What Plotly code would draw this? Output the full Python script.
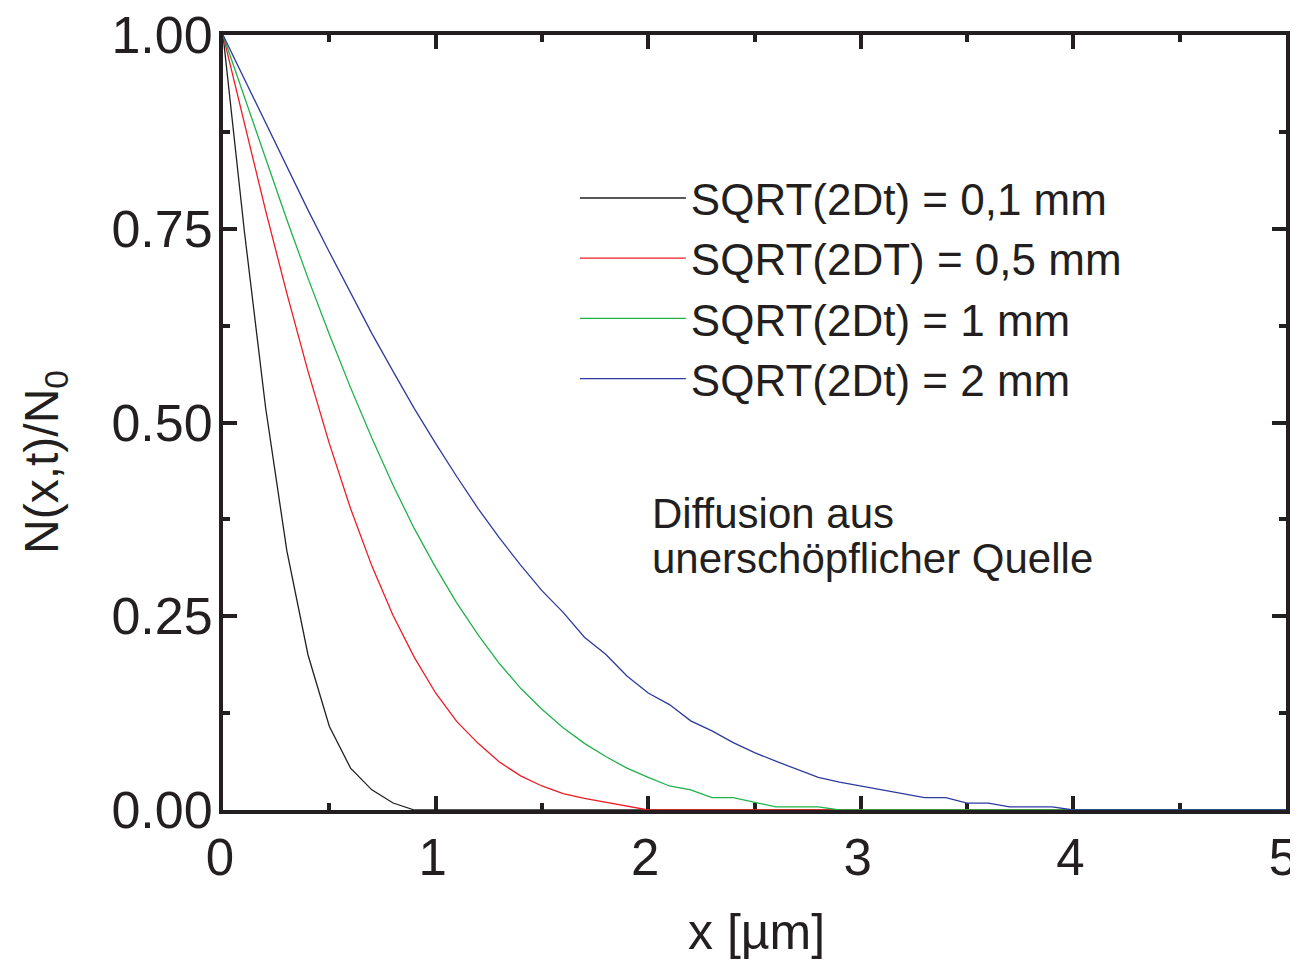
import plotly.graph_objects as go

# x positions (µm)
x_um = [0.0, 0.1, 0.2, 0.3, 0.4, 0.5, 0.6, 0.7, 0.8, 0.9,
        1.0, 1.1, 1.2, 1.3, 1.4, 1.5, 1.6, 1.7, 1.8, 1.9,
        2.0, 2.1, 2.2, 2.3, 2.4, 2.5, 2.6, 2.7, 2.8, 2.9,
        3.0, 3.1, 3.2, 3.3, 3.4, 3.5, 3.6, 3.7, 3.8, 3.9,
        4.0, 5.0]

y_01 = [1.0, 0.748, 0.52, 0.335, 0.2, 0.108, 0.054, 0.026, 0.009, 0.0,
        0, 0, 0, 0, 0, 0, 0, 0, 0, 0,
        0, 0, 0, 0, 0, 0, 0, 0, 0, 0,
        0, 0, 0, 0, 0, 0, 0, 0, 0, 0,
        0, 0]

y_05 = [1.0, 0.886, 0.774, 0.667, 0.566, 0.473, 0.389, 0.315, 0.251, 0.197,
        0.151, 0.114, 0.086, 0.062, 0.044, 0.031, 0.021, 0.015, 0.010, 0.005,
        0, 0, 0, 0, 0, 0, 0, 0, 0, 0,
        0, 0, 0, 0, 0, 0, 0, 0, 0, 0,
        0, 0]

y_1 = [1.0, 0.92, 0.84, 0.762, 0.686, 0.614, 0.545, 0.48, 0.419, 0.363,
       0.313, 0.267, 0.226, 0.189, 0.157, 0.13, 0.106, 0.086, 0.069, 0.054,
       0.042, 0.031, 0.026, 0.016, 0.016, 0.01, 0.004, 0.004, 0.004, 0.0,
       0, 0, 0, 0, 0, 0, 0, 0, 0, 0,
       0, 0]

y_2 = [1.0, 0.943, 0.886, 0.83, 0.774, 0.72, 0.667, 0.615, 0.566, 0.518,
       0.473, 0.43, 0.389, 0.351, 0.316, 0.283, 0.255, 0.223, 0.201, 0.173,
       0.151, 0.136, 0.115, 0.102, 0.087, 0.074, 0.063, 0.053, 0.042, 0.036,
       0.031, 0.026, 0.021, 0.016, 0.016, 0.009, 0.009, 0.004, 0.004, 0.004,
       0.0, 0.0]

series_names = ["SQRT(2Dt) = 0,1 mm", "SQRT(2DT) = 0,5 mm",
                "SQRT(2Dt) = 1 mm", "SQRT(2Dt) = 2 mm"]
series_values = [y_01, y_05, y_1, y_2]
series_colors = ["#231f20", "#ed1c24", "#1fb24a", "#2e3a9e"]

x_ticks = [0, 1, 2, 3, 4, 5]
y_ticks = [0.0, 0.25, 0.5, 0.75, 1.0]
y_ticklabels = ["0.00", "0.25", "0.50", "0.75", "1.00"]

FONT = "Liberation Sans, Arial, sans-serif"
INK = "#231f20"

fig = go.Figure()
for name, ys, col in zip(series_names, series_values, series_colors):
    fig.add_trace(go.Scatter(x=x_um, y=ys, mode="lines", name=name,
                             line=dict(color=col, width=1.3)))

axis_common = dict(
    showline=True, linewidth=4, linecolor=INK, mirror="ticks",
    ticks="inside", ticklen=14, tickwidth=4, tickcolor=INK,
    showgrid=False, zeroline=False, layer="below traces", automargin=False,
    ticklabeloverflow="allow",
)

fig.update_xaxes(range=[0, 5], tickvals=x_ticks,
                 minor=dict(dtick=0.5, ticklen=7, tickwidth=4, tickcolor=INK, ticks="inside"),
                 ticklabelstandoff=0, ticklabelshift=-3,
                 tickfont=dict(family=FONT, size=51, color=INK), **axis_common)
fig.update_yaxes(range=[0, 1], tickvals=y_ticks, ticktext=y_ticklabels,
                 minor=dict(dtick=0.125, ticklen=7, tickwidth=4, tickcolor=INK, ticks="inside"),
                 ticklabelstandoff=-4,
                 tickfont=dict(family=FONT, size=52, color=INK), **axis_common)

fig.add_annotation(text="N(x,t)/N<sub>0</sub>", xref="paper", yref="paper",
                   x=-0.1675, y=0.449, xanchor="center", yanchor="middle",
                   textangle=-90, showarrow=False,
                   font=dict(family=FONT, size=48, color=INK))
fig.add_annotation(text="x [µm]", xref="paper", yref="paper",
                   x=0.502, y=-0.157, xanchor="center", yanchor="middle",
                   showarrow=False, font=dict(family=FONT, size=50, color=INK))
fig.add_annotation(text="Diffusion aus", xref="paper", yref="paper",
                   x=0.4017, y=0.383, xanchor="left", yanchor="middle",
                   showarrow=False, font=dict(family=FONT, size=42, color=INK))
fig.add_annotation(text="unerschöpflicher Quelle", xref="paper", yref="paper",
                   x=0.4017, y=0.325, xanchor="left", yanchor="middle",
                   showarrow=False, font=dict(family=FONT, size=42, color=INK))

# The page body adds an 8px offset, so the figure is 8px smaller than the window.
fig.update_layout(
    width=1290, height=953,
    margin=dict(l=215, r=12, t=27, b=151, autoexpand=False),
    paper_bgcolor="white", plot_bgcolor="white",
    showlegend=True,
    legend=dict(x=0.331, y=0.835, xanchor="left", yanchor="top",
                bgcolor="rgba(0,0,0,0)", borderwidth=0,
                font=dict(family=FONT, size=44, color=INK),
                itemwidth=106, tracegroupgap=0),
)

fig.write_html("out.html")
